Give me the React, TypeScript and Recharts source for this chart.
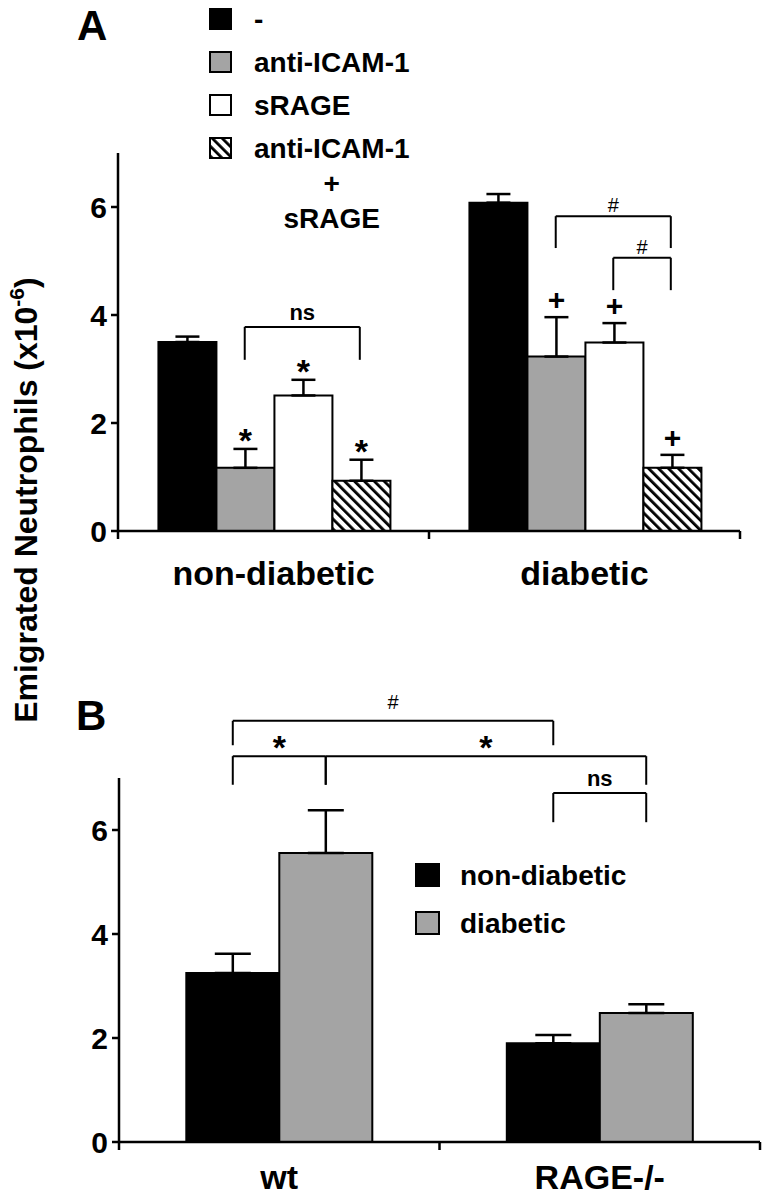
import React from 'react';
import { BarChart, Bar, XAxis, YAxis, ErrorBar, LabelList, ReferenceLine, Legend } from 'recharts';

const FONT = '"Liberation Sans", Arial, Helvetica, sans-serif';
const GRAY = '#a4a4a4';

// panel A
const groupsA = ['non-diabetic', 'diabetic'];
const namesA = ['-', 'anti-ICAM-1', 'sRAGE', 'anti-ICAM-1 + sRAGE'];
const controlA = [3.5, 6.08];
const icamA = [1.17, 3.23];
const srageA = [2.51, 3.49];
const comboA = [0.93, 1.17];
const controlErrA = [0.1, 0.16];
const icamErrA = [0.35, 0.73];
const srageErrA = [0.29, 0.36];
const comboErrA = [0.39, 0.24];
const icamMarkA = ['*', '+'];
const srageMarkA = ['*', '+'];
const comboMarkA = ['*', '+'];

// panel B
const groupsB = ['wt', 'RAGE-/-'];
const namesB = ['non-diabetic', 'diabetic'];
const nonDiabB = [3.25, 1.9];
const diabB = [5.56, 2.48];
const nonDiabErrB = [0.37, 0.16];
const diabErrB = [0.82, 0.17];

const ticksY = [0, 2, 4, 6];

// significance brackets: bar = [group, series], y = bracket level, low = end of the legs
const bracketsA = [
  { from: [0, 1], to: [0, 3], y: 3.78, low: 3.17, text: 'ns', lift: 7 },
  { from: [1, 1], to: [1, 3], y: 5.83, low: 5.24, text: '#', lift: 4 },
  { from: [1, 2], to: [1, 3], y: 5.06, low: 4.46, text: '#', lift: 4 },
];
const bracketsB = [
  { from: [0, 0], to: [1, 0], y: 8.1, low: 7.63, text: '#', lift: 12 },
  { from: [0, 0], to: [0, 1], y: 7.42, low: 6.87, text: '*', lift: -3 },
  { from: [0, 1], to: [1, 1], y: 7.42, low: 6.87, text: '*', lift: -3 },
  { from: [1, 0], to: [1, 1], y: 6.71, low: 6.15, text: 'ns', lift: 7 },
];

const GAP_A = 0.13;
const GAP_B = 0.21;

const rowsA = groupsA.map((g, i) => ({
  group: g,
  control: controlA[i],
  controlErr: [0, controlErrA[i]],
  icam: icamA[i],
  icamErr: [0, icamErrA[i]],
  srage: srageA[i],
  srageErr: [0, srageErrA[i]],
  combo: comboA[i],
  comboErr: [0, comboErrA[i]],
}));

const rowsB = groupsB.map((g, i) => ({
  group: g,
  nonDiab: nonDiabB[i],
  nonDiabErr: [0, nonDiabErrB[i]],
  diab: diabB[i],
  diabErr: [0, diabErrB[i]],
}));

const SYMBOL: Record<string, { size: number; weight: string }> = {
  ns: { size: 22, weight: 'bold' },
  '#': { size: 20, weight: 'normal' },
  '*': { size: 34, weight: 'bold' },
  '+': { size: 30, weight: 'bold' },
};

// "frame" axis runs 0..1 over the plot; each of the 2 categories takes half of it
const FRAME_TICKS = [0, 0.25, 0.5, 0.75, 1];
const barCenter = (group: number, series: number, n: number, gap: number) =>
  (group + gap + ((1 - 2 * gap) * (series + 0.5)) / n) / 2;

const bracketLabel = (text: string, lift: number) => (p: any) => {
  const vb = p.viewBox;
  if (!vb || vb.x == null) return null;
  const st = SYMBOL[text];
  return (
    <text x={vb.x + (vb.width || 0) / 2} y={vb.y - lift} textAnchor="middle"
      fontFamily={FONT} fontSize={st.size} fontWeight={st.weight} fill="#000">
      {text}
    </text>
  );
};

const renderBrackets = (list: any[], n: number, gap: number) =>
  list.map((b, k) => {
    const x1 = barCenter(b.from[0], b.from[1], n, gap);
    const x2 = barCenter(b.to[0], b.to[1], n, gap);
    const common = { xAxisId: 'frame', stroke: '#000', strokeWidth: 2, ifOverflow: 'visible' as const };
    return (
      <React.Fragment key={k}>
        <ReferenceLine {...common} segment={[{ x: x1, y: b.low }, { x: x1, y: b.y }]} />
        <ReferenceLine {...common} segment={[{ x: x1, y: b.y }, { x: x2, y: b.y }]}
          label={bracketLabel(b.text, b.lift)} />
        <ReferenceLine {...common} segment={[{ x: x2, y: b.y }, { x: x2, y: b.low }]} />
      </React.Fragment>
    );
  });

// sign above an error bar
const markContent = (marks: string[], errs: number[], values: number[]) => (p: any) => {
  const vb = p.viewBox && p.viewBox.width != null ? p.viewBox : p;
  const i = p.index != null ? p.index : values.indexOf(Number(p.value));
  const m = marks[i];
  if (!m || !vb || !p.value) return null;
  const perUnit = vb.height / Number(p.value);
  const errTop = vb.y - errs[i] * perUnit;
  const st = SYMBOL[m];
  const base = m === '*' ? errTop + 3 : errTop - 7;
  return (
    <text x={vb.x + vb.width / 2} y={base} textAnchor="middle" fontFamily={FONT}
      fontSize={st.size} fontWeight={st.weight} fill="#000">
      {m}
    </text>
  );
};

const frameTick = (labels: string[], drop: number) => (p: any) => {
  const { x, y, payload } = p;
  const v = Number(payload.value) * 2;
  if (Math.abs(v - Math.round(v)) < 1e-6) {
    return <line x1={x} y1={y} x2={x} y2={y + 8} stroke="#000" strokeWidth={2.5} />;
  }
  return (
    <text x={x} y={y + drop} textAnchor="middle" fontFamily={FONT} fontSize={34}
      fontWeight="bold" fill="#000">
      {labels[Math.floor(v)]}
    </text>
  );
};

const legendContent = (size: number, gapBelow: number, textLeft: number) => (props: any) => {
  const items = props.payload || [];
  return (
    <div style={{ fontFamily: FONT, fontWeight: 'bold', fontSize: 28, color: '#000' }}>
      {items.map((it: any, i: number) => {
        const parts = String(it.value).split(' + ');
        const fill = (it.payload && it.payload.fill) || it.color;
        return (
          <div key={i} style={{ display: 'flex', alignItems: 'flex-start', height: size, marginBottom: gapBelow }}>
            <svg width={size + 1} height={size} style={{ flex: 'none' }}>
              <rect x={1} y={1} width={size - 1} height={size - 2} fill={fill} stroke="#000" strokeWidth={2} />
            </svg>
            <div style={{ marginLeft: textLeft, marginTop: size / 2 - 17.5, lineHeight: '35px', textAlign: 'center', whiteSpace: 'nowrap' }}>
              {parts.length > 1
                ? [parts[0], '+', parts[1]].map((t, j) => <div key={j}>{t}</div>)
                : it.value}
            </div>
          </div>
        );
      })}
    </div>
  );
};

const axisStroke = { stroke: '#000', strokeWidth: 2.5 };
const tickFont = { fontSize: 30, fontWeight: 'bold', fill: '#000', fontFamily: FONT };

export default function App() {
  return (
    <div style={{ position: 'absolute', left: 0, top: 0, width: 767, height: 1199, background: '#fff' }}>
      <svg width={767} height={1199} style={{ position: 'absolute', left: 0, top: 0 }}>
        <text x={77} y={40} fontFamily={FONT} fontSize={42} fontWeight="bold">A</text>
        <text x={76} y={730} fontFamily={FONT} fontSize={42} fontWeight="bold">B</text>
        <text x={37} y={500} transform="rotate(-90 37 500)" textAnchor="middle"
          fontFamily={FONT} fontSize={32} fontWeight="bold">
          Emigrated Neutrophils (x10<tspan fontSize={21} dy={-13}>-6</tspan>
          <tspan fontSize={32} dy={13}>)</tspan>
        </text>
      </svg>

      <div style={{ position: 'absolute', left: 0, top: 0 }}>
        <BarChart width={767} height={600} data={rowsA} barGap={0} barCategoryGap={`${GAP_A * 100}%`}
          margin={{ top: 153, right: 27, left: 0, bottom: 0 }}>
          <defs>
            <pattern id="hatchA" patternUnits="userSpaceOnUse" width={7} height={7} patternTransform="rotate(-45)">
              <rect width={7} height={7} fill="#fff" />
              <rect width={2.8} height={7} fill="#000" />
            </pattern>
          </defs>
          <XAxis xAxisId="frame" type="number" domain={[0, 1]} allowDataOverflow ticks={FRAME_TICKS}
            interval={0} height={69} tickSize={0} tickMargin={0} tickLine={false}
            axisLine={axisStroke} tick={frameTick(groupsA, 54)} />
          <XAxis dataKey="group" hide height={0} />
          <YAxis domain={[0, 7]} allowDataOverflow ticks={ticksY} width={118} tickSize={7} tickMargin={4}
            axisLine={axisStroke} tickLine={axisStroke} tick={tickFont} />
          <Legend layout="vertical" align="center" verticalAlign="middle"
            itemSorter={(item: any) => namesA.indexOf(item.value)}
            wrapperStyle={{ left: 209, top: 8, width: 300 }} content={legendContent(22, 21, 22)} />
          <Bar dataKey="control" name={namesA[0]} fill="#000" stroke="#000" strokeWidth={2} isAnimationActive={false}>
            <ErrorBar dataKey="controlErr" width={12} stroke="#000" strokeWidth={2.5} />
          </Bar>
          <Bar dataKey="icam" name={namesA[1]} fill={GRAY} stroke="#000" strokeWidth={2} isAnimationActive={false}>
            <ErrorBar dataKey="icamErr" width={12} stroke="#000" strokeWidth={2.5} />
            <LabelList dataKey="icam" content={markContent(icamMarkA, icamErrA, icamA)} />
          </Bar>
          <Bar dataKey="srage" name={namesA[2]} fill="#fff" stroke="#000" strokeWidth={2} isAnimationActive={false}>
            <ErrorBar dataKey="srageErr" width={12} stroke="#000" strokeWidth={2.5} />
            <LabelList dataKey="srage" content={markContent(srageMarkA, srageErrA, srageA)} />
          </Bar>
          <Bar dataKey="combo" name={namesA[3]} fill="url(#hatchA)" stroke="#000" strokeWidth={2} isAnimationActive={false}>
            <ErrorBar dataKey="comboErr" width={12} stroke="#000" strokeWidth={2.5} />
            <LabelList dataKey="combo" content={markContent(comboMarkA, comboErrA, comboA)} />
          </Bar>
          {renderBrackets(bracketsA, 4, GAP_A)}
        </BarChart>
      </div>

      <div style={{ position: 'absolute', left: 0, top: 600 }}>
        <BarChart width={767} height={599} data={rowsB} barGap={0} barCategoryGap={`${GAP_B * 100}%`}
          margin={{ top: 178, right: 7, left: 0, bottom: 0 }}>
          <XAxis xAxisId="frame" type="number" domain={[0, 1]} allowDataOverflow ticks={FRAME_TICKS}
            interval={0} height={57} tickSize={0} tickMargin={0} tickLine={false}
            axisLine={axisStroke} tick={frameTick(groupsB, 47)} />
          <XAxis dataKey="group" hide height={0} />
          <YAxis domain={[0, 7]} allowDataOverflow ticks={ticksY} width={119} tickSize={7} tickMargin={4}
            axisLine={axisStroke} tickLine={axisStroke} tick={tickFont} />
          <Legend layout="vertical" align="center" verticalAlign="middle"
            itemSorter={(item: any) => namesB.indexOf(item.value)}
            wrapperStyle={{ left: 415, top: 263, width: 300 }} content={legendContent(24, 24, 20)} />
          <Bar dataKey="nonDiab" name={namesB[0]} fill="#000" stroke="#000" strokeWidth={2} isAnimationActive={false}>
            <ErrorBar dataKey="nonDiabErr" width={18} stroke="#000" strokeWidth={2.5} />
          </Bar>
          <Bar dataKey="diab" name={namesB[1]} fill={GRAY} stroke="#000" strokeWidth={2} isAnimationActive={false}>
            <ErrorBar dataKey="diabErr" width={18} stroke="#000" strokeWidth={2.5} />
          </Bar>
          {renderBrackets(bracketsB, 2, GAP_B)}
        </BarChart>
      </div>
    </div>
  );
}
